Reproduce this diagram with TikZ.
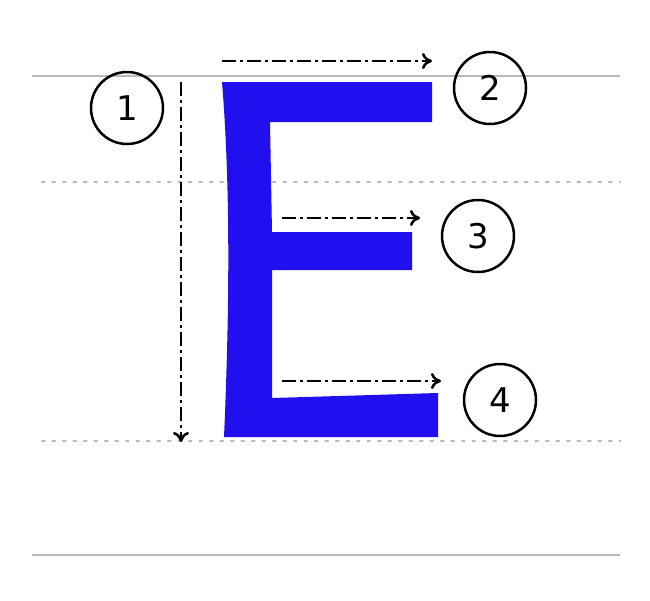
\documentclass[tikz,border=0pt]{standalone}
\usepackage{fontspec}
\setmainfont{DejaVu Sans}
\usetikzlibrary{arrows.meta}
\definecolor{letterblue}{RGB}{32,16,240}
\tikzset{
  guide/.style={gray!55,line width=2.5pt},
  dotguide/.style={gray!55,line width=2.5pt,dash pattern=on 2.5pt off 8pt,line cap=round},
  stroke/.style={black,line width=2.5pt,dash pattern=on 14pt off 4pt on 3pt off 4pt,-{To[length=10pt,width=16pt,line width=2.5pt]}},
  num/.style={circle,draw,line width=2.5pt,minimum size=72pt,inner sep=0pt,font=\fontsize{34}{34}\selectfont}
}
\begin{document}
\begin{tikzpicture}[x=1pt,y=-1pt]
    \useasboundingbox (0,0) rectangle (650,600);
    % Guide lines
    \draw[guide] (32,76) -- (620,76);
    \draw[guide] (32,555) -- (620,555);
    \draw[dotguide] (42,182) -- (620,182);
    \draw[dotguide] (42,441) -- (620,441);

    % Letter
    \fill[letterblue] (222,82) -- (432,82) -- (432,122) -- (270,122) -- (272,232)
        -- (412,232) -- (412,270) -- (272,270) -- (272,398) -- (438,393)
        -- (438,437) -- (224,437) .. controls (230,300) and (230,180) .. cycle;

    % Stroke order
    \node[num] (n1) at (127,108) {1};
    \node[num] (n2) at (490,88) {2};
    \node[num] (n3) at (478,236) {3};
    \node[num] (n4) at (500,400) {4};

    \coordinate (s1) at (181,82);  \coordinate (e1) at (181,442);
    \coordinate (s2) at (222,61);  \coordinate (e2) at (432,61);
    \coordinate (s3) at (282,218); \coordinate (e3) at (420,218);
    \coordinate (s4) at (282,381); \coordinate (e4) at (441,381);
    \draw[stroke] (s1) -- (e1);
    \draw[stroke] (s2) -- (e2);
    \draw[stroke] (s3) -- (e3);
    \draw[stroke] (s4) -- (e4);
\end{tikzpicture}
\end{document}
